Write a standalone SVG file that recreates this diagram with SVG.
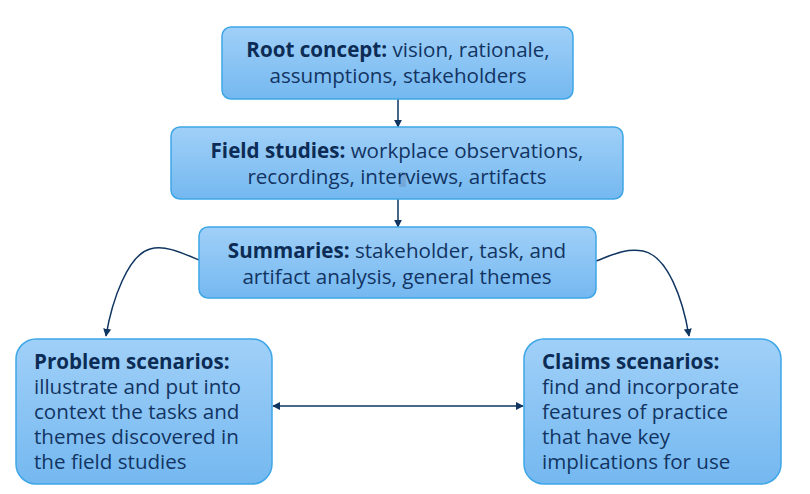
<svg xmlns="http://www.w3.org/2000/svg" width="810" height="494" viewBox="0 0 810 494">
  <defs>
    <linearGradient id="boxFill" x1="0" y1="0" x2="0" y2="1">
      <stop offset="0" stop-color="#a0d0f8"/>
      <stop offset="1" stop-color="#74b8f0"/>
    </linearGradient>
    <marker id="arrow" viewBox="0 0 10 10" refX="9" refY="5" markerWidth="8" markerHeight="8" markerUnits="userSpaceOnUse" orient="auto-start-reverse">
      <path d="M0,0 L10,5 L0,10 z" fill="#0f3560"/>
    </marker>
  </defs>
  <style>
    .box { fill: url(#boxFill); stroke: #3ea6e6; stroke-width: 1.5; }
    .txt { font-family: "Open Sans", "Noto Sans", sans-serif; font-size: 20.6px; fill: #123462; }
    .b { font-weight: bold; fill: #0c2c55; }
    .link { fill: none; stroke: #0f3560; stroke-width: 1.5; }
  </style>
  <rect width="810" height="494" fill="#ffffff"/>

  <g id="connectors">
    <line class="link" x1="398" y1="99" x2="398" y2="127" marker-end="url(#arrow)"/>
    <line class="link" x1="398" y1="199" x2="398" y2="227" marker-end="url(#arrow)"/>
    <path class="link" d="M199,260 C180,252 165,245 150,249 C128,255 112,300 106,336" marker-end="url(#arrow)"/>
    <path class="link" d="M596,261 C612,255 625,248 643,251 C668,256 683,300 689,336" marker-end="url(#arrow)"/>
    <line class="link" x1="273" y1="406" x2="523" y2="406" marker-start="url(#arrow)" marker-end="url(#arrow)"/>
  </g>

  <g id="root-concept">
    <rect class="box" x="222" y="27" width="351" height="72" rx="9"/>
    <text class="txt" text-anchor="middle" x="398" y="57"><tspan class="b">Root concept:</tspan> vision, rationale,</text>
    <text class="txt" text-anchor="middle" x="398" y="83">assumptions, stakeholders</text>
  </g>

  <g id="field-studies">
    <rect class="box" x="171" y="127" width="452" height="72" rx="9"/>
    <rect x="399" y="172" width="7" height="15" fill="#6f9fcf" opacity="0.7"/>
    <text class="txt" text-anchor="middle" x="397" y="158"><tspan class="b">Field studies:</tspan> workplace observations,</text>
    <text class="txt" text-anchor="middle" x="397" y="184">recordings, interviews, artifacts</text>
  </g>

  <g id="summaries">
    <rect class="box" x="199" y="227" width="397" height="71" rx="9"/>
    <text class="txt" text-anchor="middle" x="397" y="258"><tspan class="b">Summaries:</tspan> stakeholder, task, and</text>
    <text class="txt" text-anchor="middle" x="397" y="284">artifact analysis, general themes</text>
  </g>

  <g id="problem-scenarios">
    <rect class="box" x="16" y="339" width="256" height="145" rx="20"/>
    <text class="txt" x="34" y="369"><tspan class="b">Problem scenarios:</tspan></text>
    <text class="txt" x="34" y="394">illustrate and put into</text>
    <text class="txt" x="34" y="419">context the tasks and</text>
    <text class="txt" x="34" y="444">themes discovered in</text>
    <text class="txt" x="34" y="469">the field studies</text>
  </g>

  <g id="claims-scenarios">
    <rect class="box" x="524" y="339" width="257" height="145" rx="20"/>
    <text class="txt" x="542" y="369"><tspan class="b">Claims scenarios:</tspan></text>
    <text class="txt" x="542" y="394">find and incorporate</text>
    <text class="txt" x="542" y="419">features of practice</text>
    <text class="txt" x="542" y="444">that have key</text>
    <text class="txt" x="542" y="469">implications for use</text>
  </g>
</svg>
